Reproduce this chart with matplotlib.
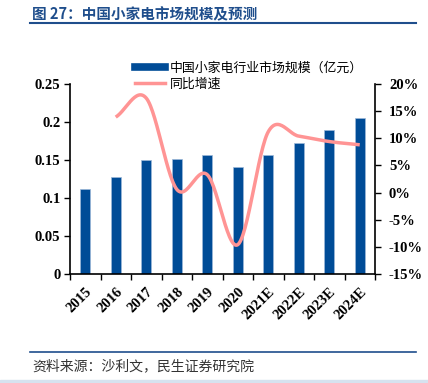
import numpy as np
import matplotlib
matplotlib.use("Agg")
import matplotlib.pyplot as plt
from matplotlib.lines import Line2D

plt.rcParams['font.family'] = ['Noto Sans CJK SC', 'DejaVu Sans']

years = ["2015", "2016", "2017", "2018", "2019", "2020", "2021E", "2022E", "2023E", "2024E"]
market = [0.112, 0.128, 0.150, 0.151, 0.156, 0.141, 0.156, 0.172, 0.189, 0.205]
growth = [None, 13.9, 17.4, 0.6, 3.3, -9.6, 11.2, 10.4, 9.4, 8.8]
left_ticks = [0, 0.05, 0.1, 0.15, 0.2, 0.25]
left_labels = ["0", "0.05", "0.1", "0.15", "0.2", "0.25"]
right_ticks = [-15, -10, -5, 0, 5, 10, 15, 20]

title = "图 27：中国小家电市场规模及预测"
source = "资料来源：沙利文，民生证券研究院"
bar_label = "中国小家电行业市场规模（亿元）"
line_label = "同比增速"

W, H = 428, 383
fig = plt.figure(figsize=(W / 100, H / 100), dpi=100)

bar_color = "#004C97"
line_color = "#FF9494"
title_color = "#1F4E8C"

ax = fig.add_axes([70 / W, 1 - 274 / H, (375 - 70) / W, (274 - 84) / H])
x = np.arange(len(years))
ax.bar(x, market, width=0.33, color=bar_color, edgecolor="#9DB8D9", linewidth=0.5, zorder=2)
ax.set_xlim(-0.5, len(years) - 0.5)
ax.set_ylim(0, 0.25)
ax.set_yticks(left_ticks)
ax.set_yticklabels(left_labels)
ax.set_xticks(x)
ax.set_xticklabels(years, rotation=45, ha="right", va="top", rotation_mode="anchor")
ax.set_xticks(np.arange(len(years) + 1) - 0.5, minor=True)
ax.tick_params(axis="x", which="major", length=0, pad=8)
ax.tick_params(axis="x", which="minor", length=4, width=1, direction="out")
ax.tick_params(axis="y", length=4, width=1, direction="out", pad=3)
for lbl in ax.get_xticklabels() + ax.get_yticklabels():
    lbl.set_fontfamily("Liberation Serif")
    lbl.set_fontweight("bold")
    lbl.set_fontsize(10.5)
for s in ["top", "right"]:
    ax.spines[s].set_visible(False)
ax.spines["left"].set_linewidth(1.2)
ax.spines["bottom"].set_linewidth(1.2)

ax2 = ax.twinx()
ax2.set_ylim(-15, 20)
ax2.set_yticks(right_ticks)
ax2.set_yticklabels([f"{t}%" for t in right_ticks])
ax2.tick_params(axis="y", length=4, width=1, direction="out", pad=6)
for lbl in ax2.get_yticklabels():
    lbl.set_fontfamily("Liberation Serif")
    lbl.set_fontweight("bold")
    lbl.set_fontsize(10.5)
for s in ["top", "left", "bottom"]:
    ax2.spines[s].set_visible(False)
ax2.spines["right"].set_linewidth(1.2)

# smoothed line (Bezier smoothing through the data points)
px = np.array([i for i, g in enumerate(growth) if g is not None], dtype=float)
py = np.array([g for g in growth if g is not None], dtype=float)
P = np.column_stack([px, py])
Pext = np.vstack([P[0] - (P[1] - P[0]), P, P[-1] + (P[-1] - P[-2])])
xs, ys = [], []
t = np.linspace(0, 1, 30)
for i in range(1, len(Pext) - 2):
    p0, p1, p2, p3 = Pext[i - 1], Pext[i], Pext[i + 1], Pext[i + 2]
    b1 = p1 + (p2 - p0) / 6
    b2 = p2 - (p3 - p1) / 6
    seg = ((1 - t) ** 3)[:, None] * p1 + (3 * (1 - t) ** 2 * t)[:, None] * b1 \
        + (3 * (1 - t) * t ** 2)[:, None] * b2 + (t ** 3)[:, None] * p2
    xs.extend(seg[:, 0]); ys.extend(seg[:, 1])
ax2.plot(xs, ys, color=line_color, linewidth=2.5, solid_capstyle="butt", zorder=3)

handles = [Line2D([0], [0], color=bar_color, linewidth=5.5),
           Line2D([0], [0], color=line_color, linewidth=2.5)]
leg = fig.legend(handles, [bar_label, line_label], loc="upper left",
                 bbox_to_anchor=(135 / W, 1 - 62 / H), frameon=False,
                 fontsize=9.3, handlelength=2.35, handletextpad=0.35,
                 labelspacing=0.2, borderaxespad=0, borderpad=0)

fig.text(32 / W, 1 - 14 / H, title, fontsize=10.5, fontweight="bold",
         color=title_color, va="center", ha="left")
fig.add_artist(Line2D([30 / W, 416 / W], [1 - 23 / H, 1 - 23 / H], color=title_color, linewidth=1.5))
fig.add_artist(Line2D([30 / W, 416 / W], [1 - 352 / H, 1 - 352 / H], color=title_color, linewidth=1.2))
fig.text(32 / W, 1 - 366 / H, source, fontsize=10, color="#333333", va="center", ha="left")
fig.add_artist(plt.Rectangle((0, 0), 1, 3 / H, transform=fig.transFigure, color="#D6E2EF"))

fig.savefig("out.png", dpi=100)
